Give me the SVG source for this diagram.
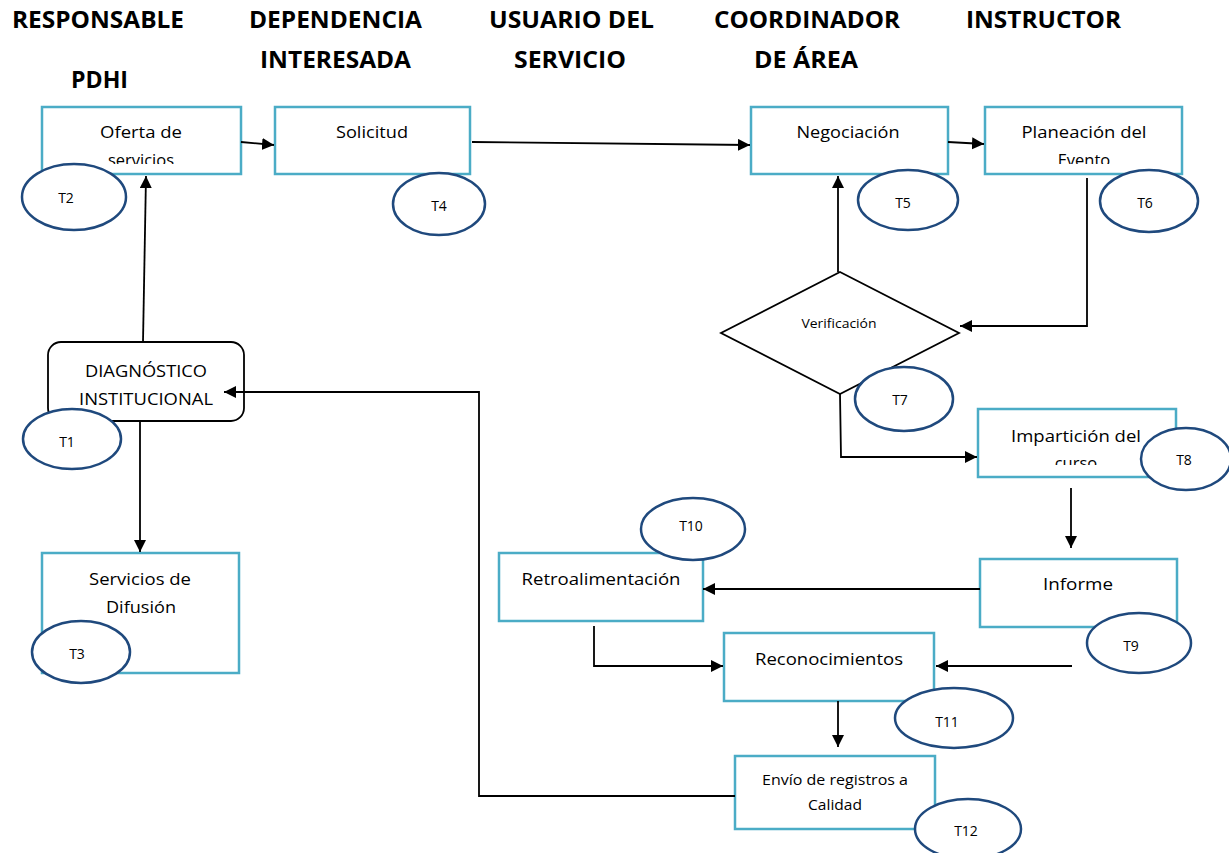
<svg xmlns="http://www.w3.org/2000/svg" width="1229" height="853" viewBox="0 0 1229 853">
<style>
.hdr{font-family:"Open Sans","Liberation Sans",sans-serif;font-weight:bold;font-size:23px;fill:#000}
.box{fill:#fff;stroke:#4BACC6;stroke-width:2.5}
.txt{font-family:"Open Sans","Liberation Sans",sans-serif;font-size:16.5px;fill:#000;text-anchor:middle}
.sm{font-family:"Open Sans","Liberation Sans",sans-serif;font-size:14px;fill:#000;text-anchor:middle}
.tl{font-family:"Open Sans","Liberation Sans",sans-serif;font-size:14px;fill:#000;text-anchor:middle}
.ell{fill:#fff;stroke:#1F497D;stroke-width:2.5}
.con{fill:none;stroke:#000;stroke-width:1.8}
</style>
<defs>
<marker id="ah" markerUnits="userSpaceOnUse" markerWidth="13" markerHeight="13" refX="12" refY="6" orient="auto">
<path d="M0,0 L12,6 L0,12 z" fill="#000"/>
</marker>
<clipPath id="c1"><rect x="42" y="107" width="199" height="57"/></clipPath>
<clipPath id="c2"><rect x="985" y="107" width="197" height="57"/></clipPath>
<clipPath id="c3"><rect x="978" y="409" width="198" height="56"/></clipPath>
</defs>
<rect width="1229" height="853" fill="#fff"/>
<g id="headers">
<text class="hdr" x="12" y="28" textLength="172" lengthAdjust="spacingAndGlyphs">RESPONSABLE</text>
<text class="hdr" x="71" y="88" textLength="57" lengthAdjust="spacingAndGlyphs">PDHI</text>
<text class="hdr" x="249" y="28" textLength="173" lengthAdjust="spacingAndGlyphs">DEPENDENCIA</text>
<text class="hdr" x="260" y="68" textLength="151" lengthAdjust="spacingAndGlyphs">INTERESADA</text>
<text class="hdr" x="489" y="28" textLength="165" lengthAdjust="spacingAndGlyphs">USUARIO DEL</text>
<text class="hdr" x="514" y="68" textLength="112" lengthAdjust="spacingAndGlyphs">SERVICIO</text>
<text class="hdr" x="714" y="28" textLength="186" lengthAdjust="spacingAndGlyphs">COORDINADOR</text>
<text class="hdr" x="754" y="68" textLength="104" lengthAdjust="spacingAndGlyphs">DE ÁREA</text>
<text class="hdr" x="966" y="28" textLength="155" lengthAdjust="spacingAndGlyphs">INSTRUCTOR</text>
</g>
<g id="oferta">
<rect class="box" x="42" y="107" width="199" height="67"/>
<g clip-path="url(#c1)">
<text class="txt" x="141" y="138" textLength="82" lengthAdjust="spacingAndGlyphs">Oferta de</text>
<text class="txt" x="141" y="166">servicios</text>
</g>
</g>
<g id="solicitud">
<rect class="box" x="275" y="107" width="195" height="67"/>
<text class="txt" x="372" y="138" textLength="72" lengthAdjust="spacingAndGlyphs">Solicitud</text>
</g>
<g id="negociacion">
<rect class="box" x="751" y="107" width="197" height="67"/>
<text class="txt" x="848" y="138" textLength="103" lengthAdjust="spacingAndGlyphs">Negociación</text>
</g>
<g id="planeacion">
<rect class="box" x="985" y="107" width="197" height="67"/>
<g clip-path="url(#c2)">
<text class="txt" x="1084" y="138" textLength="125" lengthAdjust="spacingAndGlyphs">Planeación del</text>
<text class="txt" x="1084" y="166">Evento</text>
</g>
</g>
<g id="diagnostico">
<rect x="48" y="342" width="196" height="79" rx="13" ry="13" fill="#fff" stroke="#000" stroke-width="1.8"/>
<text class="txt" x="146" y="377" textLength="122" lengthAdjust="spacingAndGlyphs">DIAGNÓSTICO</text>
<text class="txt" x="146" y="405" textLength="134" lengthAdjust="spacingAndGlyphs">INSTITUCIONAL</text>
</g>
<g id="servicios">
<rect class="box" x="42" y="553" width="197" height="120"/>
<text class="txt" x="140" y="585" textLength="102" lengthAdjust="spacingAndGlyphs">Servicios de</text>
<text class="txt" x="141" y="613" textLength="70" lengthAdjust="spacingAndGlyphs">Difusión</text>
</g>
<g id="verificacion">
<polygon points="840,272 959,333 840,394 721,333" fill="#fff" stroke="#000" stroke-width="1.8"/>
<text x="839" y="328" font-family="'Open Sans','Liberation Sans',sans-serif" font-size="12" text-anchor="middle" textLength="75" lengthAdjust="spacingAndGlyphs">Verificación</text>
</g>
<g id="imparticion">
<rect class="box" x="978" y="409" width="198" height="68"/>
<g clip-path="url(#c3)">
<text class="txt" x="1076" y="442" textLength="130" lengthAdjust="spacingAndGlyphs">Impartición del</text>
<text class="txt" x="1076" y="469">curso</text>
</g>
</g>
<g id="informe">
<rect class="box" x="980" y="559" width="197" height="68"/>
<text class="txt" x="1078" y="590" textLength="70" lengthAdjust="spacingAndGlyphs">Informe</text>
</g>
<g id="retroalimentacion">
<rect class="box" x="499" y="553" width="204" height="68"/>
<text class="txt" x="601" y="585" textLength="159" lengthAdjust="spacingAndGlyphs">Retroalimentación</text>
</g>
<g id="reconocimientos">
<rect class="box" x="724" y="633" width="210" height="68"/>
<text class="txt" x="829" y="665" textLength="148" lengthAdjust="spacingAndGlyphs">Reconocimientos</text>
</g>
<g id="envio">
<rect class="box" x="735" y="756" width="200" height="73"/>
<text class="sm" x="835" y="785" textLength="146" lengthAdjust="spacingAndGlyphs">Envío de registros a</text>
<text class="sm" x="835" y="810" textLength="54" lengthAdjust="spacingAndGlyphs">Calidad</text>
</g>
<g id="connectors">
<path class="con" d="M241,142 L274,145" marker-end="url(#ah)"/>
<path class="con" d="M472,142 L750,145" marker-end="url(#ah)"/>
<path class="con" d="M948,142 L984,144" marker-end="url(#ah)"/>
<path class="con" d="M143,342 L146,176" marker-end="url(#ah)"/>
<path class="con" d="M140,421 L140,552" marker-end="url(#ah)"/>
<path class="con" d="M1087,178 L1087,326 L960,326" marker-end="url(#ah)"/>
<path class="con" d="M838,272 L838,176" marker-end="url(#ah)"/>
<path class="con" d="M840,394 L841,457 L977,457" marker-end="url(#ah)"/>
<path class="con" d="M1071,488 L1071,548" marker-end="url(#ah)"/>
<path class="con" d="M980,589 L703,589" marker-end="url(#ah)"/>
<path class="con" d="M594,626 L594,666 L723,666" marker-end="url(#ah)"/>
<path class="con" d="M1072,666 L936,666" marker-end="url(#ah)"/>
<path class="con" d="M838,701 L838,747" marker-end="url(#ah)"/>
<path class="con" d="M735,796 L479,796 L479,392 L224,392" marker-end="url(#ah)"/>
</g>
<g id="t1"><ellipse class="ell" cx="72" cy="439" rx="49" ry="30"/><text class="tl" x="67" y="447">T1</text></g>
<g id="t2"><ellipse class="ell" cx="74" cy="197" rx="52" ry="33"/><text class="tl" x="66" y="203">T2</text></g>
<g id="t3"><ellipse class="ell" cx="81" cy="652" rx="49" ry="31"/><text class="tl" x="77" y="659">T3</text></g>
<g id="t4"><ellipse class="ell" cx="439" cy="204" rx="46" ry="31"/><text class="tl" x="439" y="211">T4</text></g>
<g id="t5"><ellipse class="ell" cx="908" cy="200" rx="50" ry="30"/><text class="tl" x="903" y="208">T5</text></g>
<g id="t6"><ellipse class="ell" cx="1149" cy="201" rx="49" ry="31"/><text class="tl" x="1145" y="208">T6</text></g>
<g id="t7"><ellipse class="ell" cx="904" cy="399" rx="49" ry="32"/><text class="tl" x="900" y="405">T7</text></g>
<g id="t8"><ellipse class="ell" cx="1186" cy="459" rx="45" ry="31"/><text class="tl" x="1184" y="465">T8</text></g>
<g id="t9"><ellipse class="ell" cx="1139" cy="643" rx="52" ry="30"/><text class="tl" x="1131" y="651">T9</text></g>
<g id="t10"><ellipse class="ell" cx="693" cy="529" rx="52" ry="31"/><text class="tl" x="691" y="531">T10</text></g>
<g id="t11"><ellipse class="ell" cx="954" cy="718" rx="59" ry="30"/><text class="tl" x="947" y="727">T11</text></g>
<g id="t12"><ellipse class="ell" cx="968" cy="829" rx="53" ry="30"/><text class="tl" x="966" y="836">T12</text></g>
</svg>
